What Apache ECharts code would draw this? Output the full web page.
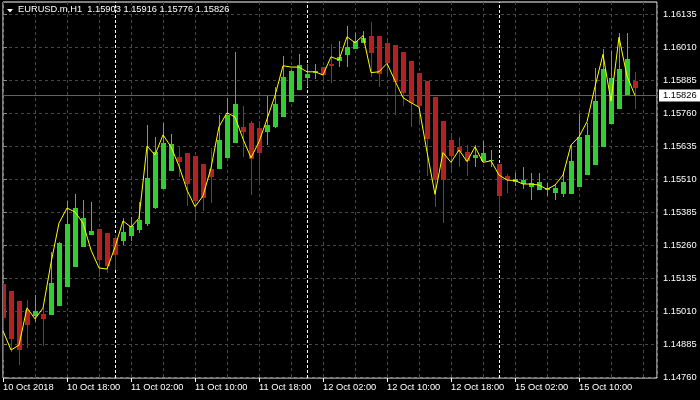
<!DOCTYPE html>
<html>
<head>
<meta charset="utf-8">
<script src="https://cdn.jsdelivr.net/npm/echarts@6/dist/echarts.min.js"></script>
<style>html,body{margin:0;padding:0;background:#000;}#c{width:700px;height:400px;}</style>
</head>
<body>
<div id="c"></div>
<script>
// ---- data ----
const symbol = 'EURUSD.m';
const timeframe = 'H1';
const headerOHLC = [1.15903, 1.15916, 1.15776, 1.15826];
const lastPrice = 1.15826;

const xLabelIdx = [0, 8, 16, 24, 32, 40, 48, 56, 64, 72];
const xLabels = ['10 Oct 2018','10 Oct 18:00','11 Oct 02:00','11 Oct 10:00','11 Oct 18:00','12 Oct 02:00','12 Oct 10:00','12 Oct 18:00','15 Oct 02:00','15 Oct 10:00'];
const daySeparators = [14, 38, 62];
const yTicks = [1.14760, 1.14885, 1.15010, 1.15135, 1.15260, 1.15385, 1.15510, 1.15635, 1.15760, 1.15885, 1.16010, 1.16135];

const haOpen = [
1.15112,1.15086,1.15048,1.15014,1.14991,1.14999,1.14995,1.15029,1.15101,1.15177,
1.15252,1.15298,1.15321,1.15305,1.15287,1.15275,1.15294,1.15317,1.15340,1.15400,
1.15472,1.15540,1.15593,1.15608,1.15597,1.15567,1.15548,1.15548,1.15590,1.15646,
1.15707,1.15722,1.15703,1.15688,1.15707,1.15745,1.15802,1.15847,1.15893,1.15911,
1.15934,1.15946,1.15957,1.15980,1.16002,1.16025,1.16052,1.16052,1.16025,1.16018,
1.15991,1.15957,1.15913,1.15881,1.15821,1.15730,1.15658,1.15631,1.15612,1.15590,
1.15578,1.15578,1.15567,1.15521,1.15499,1.15491,1.15480,1.15468,1.15468,1.15457,
1.15453,1.15453,1.15480,1.15525,1.15563,1.15631,1.15718,1.15775,1.15828,1.15881];
const haClose = [
1.14983,1.14904,1.14862,1.14957,1.15010,1.14980,1.15116,1.15268,1.15340,1.15400,
1.15362,1.15313,1.15203,1.15180,1.15222,1.15309,1.15332,1.15355,1.15514,1.15612,
1.15646,1.15643,1.15574,1.15491,1.15427,1.15438,1.15518,1.15658,1.15752,1.15794,
1.15688,1.15586,1.15608,1.15715,1.15794,1.15896,1.15919,1.15942,1.15908,1.15919,
1.15904,1.15938,1.15972,1.16010,1.16033,1.16044,1.15987,1.15908,1.15949,1.15877,
1.15836,1.15798,1.15787,1.15662,1.15506,1.15506,1.15597,1.15612,1.15578,1.15601,
1.15608,1.15582,1.15446,1.15506,1.15510,1.15506,1.15495,1.15499,1.15476,1.15476,
1.15499,1.15578,1.15669,1.15677,1.15805,1.15927,1.15893,1.15927,1.15965,1.15855];
const barHigh = [
1.15116,1.15086,1.15048,1.15052,1.15071,1.15021,1.15234,1.15271,1.15427,1.15453,
1.15430,1.15423,1.15321,1.15305,1.15298,1.15362,1.15366,1.15423,1.15715,1.15669,
1.15722,1.15680,1.15631,1.15608,1.15597,1.15567,1.15627,1.15752,1.15817,1.15991,
1.15787,1.15730,1.15730,1.15824,1.15858,1.15976,1.15923,1.15983,1.15946,1.15946,
1.15934,1.16021,1.16033,1.16090,1.16063,1.16071,1.16105,1.16052,1.16044,1.16018,
1.15991,1.15957,1.15913,1.15881,1.15821,1.15730,1.15684,1.15669,1.15639,1.15639,
1.15654,1.15620,1.15567,1.15529,1.15533,1.15555,1.15533,1.15533,1.15495,1.15491,
1.15537,1.15639,1.15756,1.15722,1.15930,1.16002,1.15995,1.16063,1.16063,1.15916];
const barLow = [
1.14824,1.14855,1.14805,1.14870,1.14968,1.14877,1.14995,1.15029,1.15101,1.15177,
1.15252,1.15298,1.15139,1.15154,1.15165,1.15260,1.15275,1.15305,1.15332,1.15396,
1.15472,1.15540,1.15518,1.15408,1.15351,1.15389,1.15419,1.15548,1.15590,1.15646,
1.15593,1.15449,1.15487,1.15639,1.15703,1.15745,1.15802,1.15847,1.15858,1.15889,
1.15877,1.15874,1.15934,1.15934,1.16002,1.16025,1.15896,1.15858,1.15896,1.15752,
1.15787,1.15707,1.15715,1.15521,1.15404,1.15343,1.15533,1.15555,1.15521,1.15555,
1.15574,1.15555,1.15366,1.15457,1.15484,1.15472,1.15430,1.15468,1.15446,1.15430,
1.15442,1.15453,1.15480,1.15525,1.15563,1.15631,1.15718,1.15775,1.15828,1.15776];
const closeLine = [
1.14935,1.14862,1.14881,1.15022,1.14980,1.15021,1.15192,1.15343,1.15400,1.15385,
1.15343,1.15241,1.15173,1.15169,1.15252,1.15351,1.15328,1.15362,1.15635,1.15601,
1.15677,1.15632,1.15559,1.15468,1.15405,1.15446,1.15552,1.15708,1.15761,1.15745,
1.15662,1.15590,1.15651,1.15737,1.15826,1.15939,1.15934,1.15934,1.15916,1.15916,
1.15904,1.15973,1.15961,1.16049,1.16026,1.16053,1.15913,1.15916,1.15948,1.15882,
1.15818,1.15799,1.15782,1.15613,1.15452,1.15610,1.15573,1.15620,1.15576,1.15632,
1.15573,1.15579,1.15525,1.15506,1.15504,1.15491,1.15491,1.15487,1.15471,1.15487,
1.15525,1.15639,1.15670,1.15727,1.15860,1.15982,1.15805,1.16047,1.15900,1.15826];

// ---- chart ----
const UP = '#32cd32', DOWN = '#b22222';
const FONT = 'Liberation Sans';
const FS = 9.3;
const X_MIN = 0, X_MAX = 81.75, Y_MIN = 1.147562, Y_MAX = 1.161805;
const candleData = haOpen.map((o, i) => [i, o, haClose[i], barLow[i], barHigh[i]]);
const lineData = closeLine.map((c, i) => [i, c]);

const chart = echarts.init(document.getElementById('c'), null, {renderer: 'canvas'});
chart.setOption({
  backgroundColor: '#000000',
  animation: false,
  grid: {left: 3, right: 43, top: 2, bottom: 22, show: true, borderColor: '#ffffff', borderWidth: 1, backgroundColor: '#000000'},
  xAxis: [{
    type: 'value', min: X_MIN, max: X_MAX, interval: 8,
    axisLine: {show: false},
    axisTick: {show: true, length: 4, customValues: xLabelIdx, lineStyle: {color: '#ffffff'}},
    axisLabel: {show: true, customValues: xLabelIdx, color: '#ffffff', fontFamily: FONT, fontSize: FS, align: 'left', margin: 5,
      formatter: v => { const k = xLabelIdx.indexOf(Math.round(v)); return k >= 0 ? xLabels[k] : ''; }},
    splitLine: {show: false}
  }, {
    type: 'value', min: X_MIN, max: X_MAX, interval: 4, position: 'bottom',
    axisLine: {show: false}, axisTick: {show: false}, axisLabel: {show: false},
    splitLine: {show: true, lineStyle: {color: '#474747', type: [3, 3], width: 1}}
  }],
  yAxis: {
    type: 'value', position: 'right', min: Y_MIN, max: Y_MAX,
    axisLine: {show: false},
    axisTick: {show: true, length: 4, customValues: yTicks, lineStyle: {color: '#8a8a8a'}},
    axisLabel: {show: true, customValues: yTicks, color: '#ffffff', fontFamily: FONT, fontSize: FS, margin: 6,
      formatter: v => v.toFixed(5)},
    splitLine: {show: true, lineStyle: {color: '#474747', type: [3, 3], width: 1}}
  },
  graphic: [
    {type: 'polygon', shape: {points: [[7, 9], [13, 9], [10, 12.5]]}, style: {fill: '#ffffff'}, z: 100},
    {type: 'text', left: 18, top: 5, z: 100,
     style: {text: symbol + ',' + timeframe + '  ' + headerOHLC.map(v => v.toFixed(5)).join(' '),
             fill: '#ffffff', font: FS + 'px "' + FONT + '"'}}
  ],
  series: [
    {
      name: 'HA', type: 'custom', xAxisIndex: 0, clip: true, z: 3,
      encode: {x: 0, y: [1, 2, 3, 4]},
      data: candleData,
      renderItem: function (params, api) {
        const i = api.value(0), o = api.value(1), c = api.value(2), l = api.value(3), h = api.value(4);
        const pO = api.coord([i, o]), pC = api.coord([i, c]), pL = api.coord([i, l]), pH = api.coord([i, h]);
        const x = Math.round(pO[0]);
        const color = c >= o ? UP : DOWN;
        const top = Math.round(Math.min(pO[1], pC[1])), bot = Math.round(Math.max(pO[1], pC[1]));
        const wt = Math.round(pH[1]), wb = Math.round(pL[1]);
        return {type: 'group', children: [
          {type: 'rect', shape: {x: x, y: wt, width: 1, height: Math.max(1, wb - wt)}, style: {fill: color}},
          {type: 'rect', shape: {x: x - 2, y: top, width: 5, height: Math.max(1, bot - top)}, style: {fill: color}}
        ]};
      }
    },
    {
      name: 'close', type: 'line', xAxisIndex: 0, z: 4, data: lineData,
      showSymbol: false, symbol: 'none', silent: true,
      lineStyle: {color: '#ffff00', width: 1},
      markLine: {
        silent: true, symbol: ['none', 'none'], animation: false, z: 1,
        data: [
          ...daySeparators.map(v => [
            {coord: [v, Y_MIN], lineStyle: {color: '#ffffff', type: [3, 2], width: 1}, label: {show: false}},
            {coord: [v, Y_MAX]}
          ]),
          [
            {coord: [X_MIN, lastPrice], lineStyle: {color: '#606060', type: 'solid', width: 1},
             label: {show: true, position: 'end', distance: 2, formatter: () => lastPrice.toFixed(5),
                     color: '#000000', backgroundColor: '#ffffff', fontFamily: FONT, fontSize: FS,
                     padding: [1, 4, 0, 4], lineHeight: 11}},
            {coord: [X_MAX, lastPrice]}
          ]
        ]
      }
    }
  ]
});
</script>
</body>
</html>
